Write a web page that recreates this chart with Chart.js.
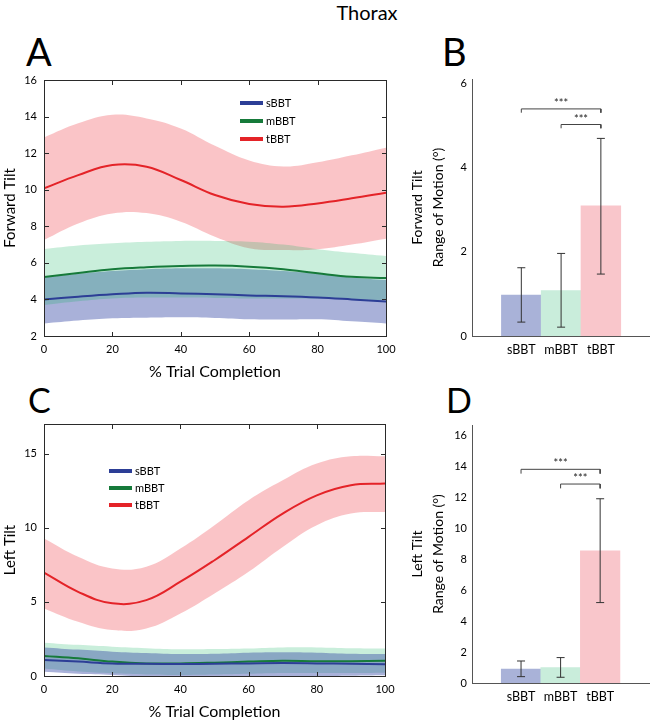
<!DOCTYPE html>
<html><head><meta charset="utf-8">
<script src="https://cdn.jsdelivr.net/npm/chart.js@4/dist/chart.umd.min.js"></script>
<style>
html,body{margin:0;padding:0;background:#fff;}
.pn{position:absolute;}
.tx{position:absolute;font-family:Lato,sans-serif;color:#000;line-height:1;white-space:nowrap;}
.fr{position:absolute;background:#2a2a2a;z-index:5;pointer-events:none;}
</style></head><body>
<div class="tx" style="left:267px;top:2px;width:200px;text-align:center;font-size:20px;">Thorax</div>
<div class="tx" style="left:26px;top:32px;font-size:38px;">A</div>
<div class="tx" style="left:442px;top:32px;font-size:38px;">B</div>
<div class="tx" style="left:28px;top:383px;font-size:34px;">C</div>
<div class="tx" style="left:446px;top:383px;font-size:34px;">D</div>
<div class="pn" style="left:0;top:60px;"><canvas id="cA" width="400" height="330"></canvas></div>
<div class="pn" style="left:400px;top:60px;"><canvas id="cB" width="254" height="310"></canvas></div>
<div class="pn" style="left:0;top:404px;"><canvas id="cC" width="400" height="320"></canvas></div>
<div class="pn" style="left:400px;top:400px;"><canvas id="cD" width="254" height="324"></canvas></div>
<script>
// ---------- data ----------
const xPct = [0,10,20,30,40,50,60,70,80,90,100];
const pctTicks = [0,20,40,60,80,100];

// Panel A: Forward Tilt
const A_yTicks = [2,4,6,8,10,12,14,16];
const A_sMean  = [4.00,4.15,4.28,4.37,4.33,4.28,4.22,4.18,4.11,4.00,3.88];
const A_sUpper = [5.20,5.40,5.55,5.65,5.70,5.70,5.65,5.55,5.40,5.20,5.06];
const A_sLower = [2.69,2.85,2.97,3.00,3.02,2.98,2.91,2.90,2.91,2.80,2.69];
const A_mMean  = [5.23,5.45,5.65,5.76,5.83,5.85,5.79,5.65,5.43,5.24,5.17];
const A_mUpper = [6.76,6.95,7.07,7.15,7.20,7.20,7.16,7.00,6.75,6.55,6.37];
const A_mLower = [3.70,3.90,4.05,4.10,4.10,4.08,4.05,4.05,4.05,4.00,3.95];
const A_tMean  = [10.07,10.80,11.35,11.26,10.53,9.71,9.22,9.07,9.25,9.53,9.84];
const A_tUpper = [12.86,13.63,14.10,13.90,13.35,12.40,11.60,11.27,11.50,11.88,12.30];
const A_tLower = [7.25,8.15,8.70,8.72,8.25,7.43,6.80,6.70,6.75,7.00,7.32];

// Panel C: Left Tilt
const C_yTicks = [0,5,10,15];
const C_sMean  = [1.08,0.97,0.85,0.82,0.81,0.83,0.85,0.87,0.85,0.82,0.79];
const C_sUpper = [1.93,1.78,1.64,1.55,1.48,1.50,1.57,1.60,1.57,1.50,1.48];
const C_sLower = [0.29,0.15,0.07,-0.05,-0.10,-0.10,-0.05,0.00,0.00,0.02,0.05];
const C_mMean  = [1.35,1.19,0.97,0.85,0.85,0.90,0.97,1.03,1.00,1.00,1.03];
const C_mUpper = [2.25,2.10,1.98,1.88,1.80,1.82,1.86,1.93,1.93,1.88,1.86];
const C_mLower = [0.50,0.30,0.18,0.10,0.07,0.10,0.15,0.20,0.20,0.20,0.22];
const C_tMean  = [6.98,5.68,4.90,5.12,6.36,7.81,9.39,10.96,12.19,12.87,12.98];
const C_tUpper = [9.27,8.04,7.25,7.37,8.60,10.17,11.86,13.20,14.33,14.82,14.82];
const C_tLower = [4.56,3.66,3.10,3.21,4.22,5.57,7.03,8.71,10.17,10.96,11.07];

// Bar panels
const groups = ['sBBT','mBBT','tBBT'];
const B_yTicks = [0,2,4,6];
const B_means  = [0.97,1.08,3.09];
const B_errLow = [0.33,0.21,1.47];
const B_errHigh= [1.62,1.96,4.69];
const B_sigFrom = [1,2];
const B_sigTo   = [3,3];
const B_sigY    = [5.39,5.02];
const B_sigDrop = 0.09;

const D_yTicks = [0,2,4,6,8,10,12,14,16];
const D_means  = [0.90,1.00,8.53];
const D_errLow = [0.41,0.37,5.19];
const D_errHigh= [1.42,1.64,11.89];
const D_sigFrom = [1,2];
const D_sigTo   = [3,3];
const D_sigY    = [13.79,12.84];
const D_sigDrop = 0.28;

// ---------- styles ----------
const FONTNAME = 'Lato';
const COLS = {
  s:{line:'rgb(44,62,150)',  band:'rgba(40,60,160,0.4)', bar:'rgb(169,178,216)'},
  m:{line:'rgb(22,122,58)',  band:'rgba(0,174,83,0.21)', bar:'rgb(201,237,219)'},
  t:{line:'rgb(228,35,40)',  band:'rgba(240,60,70,0.3)', bar:'rgb(249,198,203)'}
};
const AXCOL = '#2a2a2a';

function fixTicks(vals){ return s => { s.ticks = vals.map(v => ({value:v})); }; }
function fixW(w){ return s => { s.width = w; s.paddingTop = 0; s.paddingBottom = 0; }; }
function fixH(h){ return s => { s.height = h; s.paddingLeft = 0; s.paddingRight = 0; }; }
function pts(ys){ return xPct.map((x,i) => ({x:x, y:ys[i]})); }

function bandSets(upper, lower, color, order){
  return [
    {data:pts(upper), borderWidth:0, borderColor:'transparent', pointRadius:0, fill:'+1', backgroundColor:color, order:order, tension:0.4},
    {data:pts(lower), borderWidth:0, borderColor:'transparent', pointRadius:0, fill:false, order:order, tension:0.4}
  ];
}
function meanLine(ys, color, label){
  return {label:label, data:pts(ys), borderColor:color, borderWidth:2, pointRadius:0, fill:false, order:1, tension:0.4};
}

// frame geometry (box + inward ticks) derived from the chart's own scales
function frameRects(chart){
  const a = chart.chartArea, xs = chart.scales.x, ys = chart.scales.y;
  const L = Math.round(a.left), R = Math.round(a.right), T = Math.round(a.top), B = Math.round(a.bottom);
  const r = [[L,T,R-L+1,1],[L,B,R-L+1,1],[L,T,1,B-T+1],[R,T,1,B-T+1]];
  xs.ticks.forEach(t => { const p = Math.round(xs.getPixelForValue(t.value)); r.push([p,B-4,1,4],[p,T+1,1,4]); });
  ys.ticks.forEach(t => { const p = Math.round(ys.getPixelForValue(t.value)); r.push([L+1,p,4,1],[R-4,p,4,1]); });
  return r;
}
function framePlugin(){
  return {
    id:'boxFrame',
    afterDraw(chart){
      const ctx = chart.ctx;
      ctx.save();
      ctx.setTransform(1,0,0,1,0,0);
      ctx.globalAlpha = 1; ctx.globalCompositeOperation = 'source-over';
      ctx.fillStyle = AXCOL;
      frameRects(chart).forEach(q => ctx.fillRect(q[0], q[1], q[2], q[3]));
      ctx.restore();
    }
  };
}
function overlayFrame(chart){
  const cr = chart.canvas.getBoundingClientRect();
  frameRects(chart).forEach(q => {
    const d = document.createElement('div');
    d.className = 'fr';
    d.style.left = (cr.left + window.scrollX + q[0]) + 'px';
    d.style.top = (cr.top + window.scrollY + q[1]) + 'px';
    d.style.width = q[2] + 'px';
    d.style.height = q[3] + 'px';
    document.body.appendChild(d);
  });
}
function legendPlugin(lx, ly, dy){
  return {
    id:'inLegend',
    afterDatasetsDraw(chart){
      const ctx = chart.ctx; ctx.save();
      ctx.font = '11px ' + FONTNAME; ctx.textBaseline = 'middle'; ctx.fillStyle = '#000';
      chart.data.datasets.filter(d => d.label).forEach((d,i) => {
        const y = ly + i*dy;
        ctx.strokeStyle = d.borderColor; ctx.lineWidth = 4;
        ctx.beginPath(); ctx.moveTo(lx, y); ctx.lineTo(lx + 23, y); ctx.stroke();
        ctx.fillText(d.label, lx + 26, y);
      });
      ctx.restore();
    }
  };
}
function sigPlugin(from, to, ys){
  return {
    id:'sigText',
    afterDatasetsDraw(chart){
      const ctx = chart.ctx, xs = chart.scales.x, yS = chart.scales.y;
      ctx.save(); ctx.font = '11px ' + FONTNAME; ctx.fillStyle = '#222';
      ctx.textAlign = 'center'; ctx.textBaseline = 'alphabetic';
      from.forEach((f,i) => {
        ctx.fillText('***', xs.getPixelForValue((f + to[i]) / 2), yS.getPixelForValue(ys[i]) - 2);
      });
      ctx.restore();
    }
  };
}

function boxScales(yTicks, ymin, ymax, ytitle, xHeight, titleBottomPad){
  return {
    x:{type:'linear', position:'bottom', min:0, max:100, afterBuildTicks:fixTicks(pctTicks), afterFit:fixH(xHeight),
       grid:{display:false, drawTicks:false}, border:{display:false},
       ticks:{font:{family:FONTNAME,size:11}, color:'#000', padding:7, maxRotation:0},
       title:{display:true, text:'% Trial Completion', font:{family:FONTNAME,size:16}, color:'#000', padding:{top:0,bottom:titleBottomPad}}},
    y:{type:'linear', position:'left', min:ymin, max:ymax, afterBuildTicks:fixTicks(yTicks), afterFit:fixW(44),
       grid:{display:false, drawTicks:false}, border:{display:false},
       ticks:{font:{family:FONTNAME,size:11}, color:'#000', padding:7},
       title:{display:true, text:ytitle, font:{family:FONTNAME,size:15}, color:'#000', padding:{top:1,bottom:0}}}
  };
}

// ---------- Panel A ----------
const chartA = new Chart(document.getElementById('cA'), {
  type:'line',
  data:{datasets:[
    meanLine(A_sMean, COLS.s.line, 'sBBT'),
    meanLine(A_mMean, COLS.m.line, 'mBBT'),
    meanLine(A_tMean, COLS.t.line, 'tBBT'),
    ...bandSets(A_mUpper, A_mLower, COLS.m.band, 4),
    ...bandSets(A_sUpper, A_sLower, COLS.s.band, 5),
    ...bandSets(A_tUpper, A_tLower, COLS.t.band, 6)
  ]},
  options:{
    responsive:false, animation:false, devicePixelRatio:1,
    layout:{padding:{left:0,right:14,top:20,bottom:0}},
    plugins:{legend:{display:false}, tooltip:{enabled:false}},
    scales: boxScales(A_yTicks, 2, 16, 'Forward Tilt', 54, 8.4)
  },
  plugins:[legendPlugin(240, 43, 18), framePlugin()]
});

// ---------- Panel C ----------
const chartC = new Chart(document.getElementById('cC'), {
  type:'line',
  data:{datasets:[
    meanLine(C_sMean, COLS.s.line, 'sBBT'),
    meanLine(C_mMean, COLS.m.line, 'mBBT'),
    meanLine(C_tMean, COLS.t.line, 'tBBT'),
    ...bandSets(C_sUpper, C_sLower, COLS.s.band, 4),
    ...bandSets(C_mUpper, C_mLower, COLS.m.band, 5),
    ...bandSets(C_tUpper, C_tLower, COLS.t.band, 6)
  ]},
  options:{
    responsive:false, animation:false, devicePixelRatio:1,
    layout:{padding:{left:0,right:15,top:20,bottom:0}},
    plugins:{legend:{display:false}, tooltip:{enabled:false}},
    scales: boxScales(C_yTicks, 0, 17, 'Left Tilt', 48, 2.4)
  },
  plugins:[legendPlugin(109, 67, 17), framePlugin()]
});

// ---------- Bar panels ----------
function barChart(id, means, lo, hi, yTicks, ymax, xmax, sFrom, sTo, sY, sDrop, ytitle, padTop, xH){
  const errPts = [];
  means.forEach((m,i) => { errPts.push({x:i+1,y:lo[i]},{x:i+1,y:hi[i]},{x:i+1,y:null}); });
  const brPts = [];
  sFrom.forEach((f,i) => {
    brPts.push({x:f,y:sY[i]-sDrop},{x:f,y:sY[i]},{x:sTo[i],y:sY[i]},{x:sTo[i],y:sY[i]-sDrop},{x:sTo[i],y:null});
  });
  const ax = '#555';
  return new Chart(document.getElementById(id), {
    type:'bar',
    data:{datasets:[
      {type:'bar', data:groups.map((g,i) => ({x:i+1, y:means[i]})),
       backgroundColor:[COLS.s.bar, COLS.m.bar, COLS.t.bar], borderWidth:0,
       barPercentage:1, categoryPercentage:1, order:5},
      {type:'line', data:errPts, borderColor:'#333', borderWidth:1, pointStyle:'line', pointRadius:4,
       pointBorderColor:'#333', pointBorderWidth:1, pointBackgroundColor:'#333', spanGaps:false, order:1},
      {type:'line', data:brPts, borderColor:'#444', borderWidth:1, pointRadius:0, spanGaps:false, order:1}
    ]},
    options:{
      responsive:false, animation:false, devicePixelRatio:1,
      layout:{padding:{left:0,right:3,top:padTop,bottom:0}},
      plugins:{legend:{display:false}, tooltip:{enabled:false}},
      scales:{
        x:{type:'linear', offset:false, min:-0.24, max:xmax, afterBuildTicks:fixTicks([1,2,3]), afterFit:fixH(xH),
           grid:{display:false, drawTicks:false}, border:{color:ax, width:1},
           ticks:{font:{family:FONTNAME,size:12.5}, color:'#000', padding:6.5, maxRotation:0,
                  callback:v => groups[v-1]}},
        y:{type:'linear', min:0, max:ymax, afterBuildTicks:fixTicks(yTicks), afterFit:fixW(72),
           grid:{display:false, drawTicks:false}, border:{color:ax, width:1},
           ticks:{font:{family:FONTNAME,size:11}, color:'#000', padding:5},
           title:{display:true, text:[ytitle,'Range of Motion (°)'], font:{family:FONTNAME,size:14, lineHeight:1.5},
                  color:'#000', padding:{top:7,bottom:0}}}
      }
    },
    plugins:[sigPlugin(sFrom, sTo, sY)]
  });
}
barChart('cB', B_means, B_errLow, B_errHigh, B_yTicks, 6.1, 4.21, B_sigFrom, B_sigTo, B_sigY, B_sigDrop, 'Forward Tilt', 19, 34);
barChart('cD', D_means, D_errLow, D_errHigh, D_yTicks, 16.65, 4.235, D_sigFrom, D_sigTo, D_sigY, D_sigDrop, 'Left Tilt', 25, 41);

// frame also mirrored as an overlay, positioned from the charts' scales
overlayFrame(chartA);
overlayFrame(chartC);
</script>
</body></html>
